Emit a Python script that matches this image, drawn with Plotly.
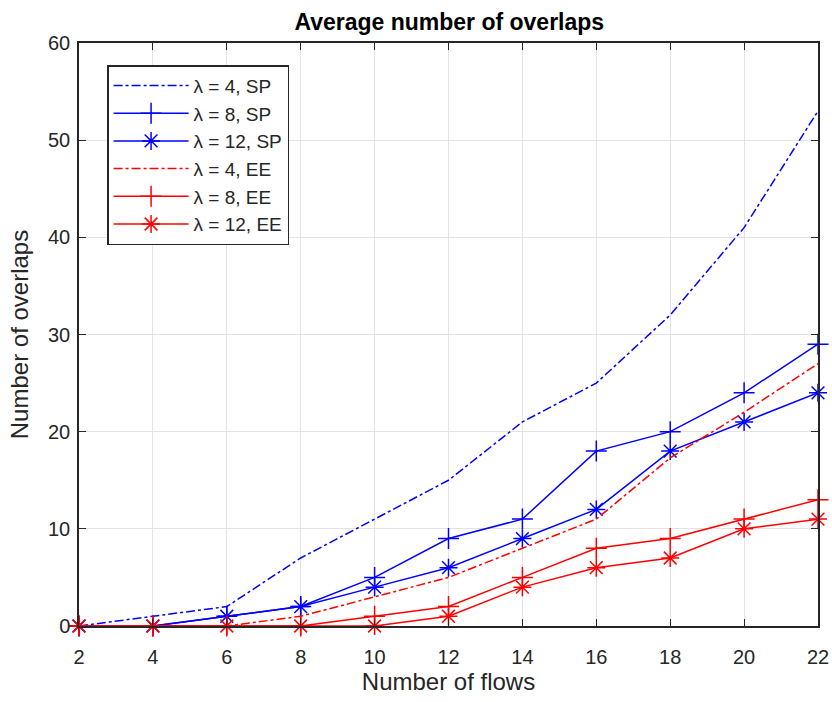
import plotly.graph_objects as go

flows = [2, 4, 6, 8, 10, 12, 14, 16, 18, 20, 22]
sp_l4 = [0, 1, 2, 7, 11, 15, 21, 25, 32, 41, 53]
sp_l8 = [0, 0, 1, 2, 5, 9, 11, 18, 20, 24, 29]
sp_l12 = [0, 0, 1, 2, 4, 6, 9, 12, 18, 21, 24]
ee_l4 = [0, 0, 0, 1, 3, 5, 8, 11, 17.3, 22, 27]
ee_l8 = [0, 0, 0, 0, 1, 2, 5, 8, 9, 11, 13]
ee_l12 = [0, 0, 0, 0, 0, 1, 4, 6, 7, 10, 11]
y_ticks = [0, 10, 20, 30, 40, 50, 60]

names = ["λ = 4, SP", "λ = 8, SP", "λ = 12, SP", "λ = 4, EE", "λ = 8, EE", "λ = 12, EE"]
series = [sp_l4, sp_l8, sp_l12, ee_l4, ee_l8, ee_l12]
colors = ["#0000ff"] * 3 + ["#ff0000"] * 3
dashes = ["dashdot", "solid", "solid"] * 2
symbols = [None, "cross-thin-open", "asterisk-open"] * 2

fig = go.Figure()
for i, (nm, ys, c, d, s) in enumerate(zip(names, series, colors, dashes, symbols)):
    kw = dict(x=flows, y=ys, name=nm, legendgroup=f"g{i}", cliponaxis=False,
              line=dict(color=c, width=1.5, dash=d))
    if s is None:
        fig.add_trace(go.Scatter(mode="lines", **kw))
    else:
        fig.add_trace(go.Scatter(mode="lines+markers",
                                 marker=dict(symbol=s, size=15, color=c,
                                             line=dict(color=c, width=1.5)), **kw))

axis_common = dict(showline=True, mirror="ticks", linecolor="#262626", linewidth=1.5,
                   ticks="inside", ticklen=7, tickcolor="#262626",
                   showgrid=True, gridcolor="#e3e3e3", gridwidth=1, automargin=False,
                   zeroline=False, tickfont=dict(size=20, color="#262626"))

fig.update_layout(
    width=832, height=702,
    margin=dict(l=79, r=14, t=43, b=76),
    paper_bgcolor="white", plot_bgcolor="white",
    font=dict(family="Liberation Sans, Arial, sans-serif", color="#262626"),
    title=dict(text="<b>Average number of overlaps</b>", x=0.54, xanchor="center",
               y=0.969, yanchor="middle", font=dict(size=23, color="#000000")),
    xaxis=dict(range=[2, 22], tickvals=flows, ticklabelstandoff=12,
               title=dict(text="Number of flows", font=dict(size=24), standoff=6),
               **axis_common),
    yaxis=dict(range=[0, 60], tickvals=y_ticks, ticklabelstandoff=3,
               title=dict(text="Number of overlaps", font=dict(size=24), standoff=13),
               **axis_common),
    legend=dict(x=0.038, y=0.962, xanchor="left", yanchor="top",
                bgcolor="white", bordercolor="#262626", borderwidth=1.5,
                font=dict(size=19, color="#262626"), tracegroupgap=0,
                itemwidth=75),
    showlegend=True,
)

fig.write_html("out.html")
